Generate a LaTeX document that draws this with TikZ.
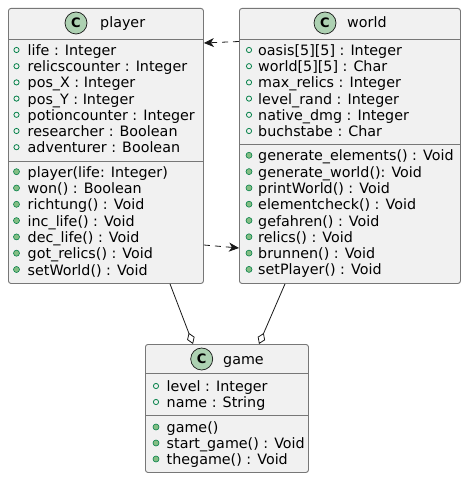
\documentclass[tikz,border=0pt]{standalone}
\usepackage{fontspec}
\setmainfont{DejaVu Sans}
\usetikzlibrary{arrows.meta,calc}
\definecolor{boxfill}{HTML}{F1F1F1}
\definecolor{boxline}{HTML}{777777}
\definecolor{conline}{HTML}{181818}
\definecolor{cfill}{HTML}{ADD1B2}
\definecolor{visgreen}{HTML}{038048}
\definecolor{methfill}{HTML}{84BE84}
\tikzset{
  classbox/.style={draw=boxline, fill=boxfill, line width=0.9pt, rounded corners=2.5pt, inner sep=0pt, anchor=north west},
  sepline/.style={draw=boxline, line width=0.9pt},
  cicon/.style={circle, draw=conline, fill=cfill, line width=0.7pt, minimum size=22pt, inner sep=0pt, font=\fontsize{13}{13}\selectfont\bfseries},
  txt/.style={anchor=base west, inner sep=0pt, font=\fontsize{14.3}{16}\selectfont},
  attricon/.style={draw=visgreen, line width=0.8pt, fill=none},
  methicon/.style={draw=visgreen, fill=methfill, line width=0.6pt},
  dep/.style={draw=conline, line width=0.8pt, dash pattern=on 6pt off 5pt, -{Stealth[length=10pt,width=9pt,inset=3pt]}},
  agg/.style={draw=conline, line width=0.8pt, -{Diamond[open,fill=white,length=12pt,width=8pt]}}
}
\begin{document}
\begin{tikzpicture}[x=1pt,y=-1pt]
\useasboundingbox (0,0) rectangle (466,478);
% ---------- player ----------
\node[classbox, minimum width=195pt, minimum height=275pt] (player) at (8,8) {};
\draw[sepline] (8,39) -- (203,39);
\draw[sepline] (8,161.5) -- (203,161.5);
\node[cicon] (pc) at (76,23) {C};
\node[txt] (pn) at (100,28) {player};
\foreach \t [count=\i] in {life : Integer, relicscounter : Integer, pos\_X : Integer, pos\_Y : Integer, potioncounter : Integer, researcher : Boolean, adventurer : Boolean}{
  \pgfmathsetmacro\yy{51+(\i-1)*16.2}
  \draw[attricon] (16.5,\yy-1) circle (2.6);
  \node[txt] (pa\i) at (27.5,\yy+4.5) {\t};
}
\foreach \t [count=\i] in {player(life: Integer), won() : Boolean, richtung() : Void, inc\_life() : Void, dec\_life() : Void, got\_relics() : Void, setWorld() : Void}{
  \pgfmathsetmacro\yy{172.7+(\i-1)*16.3}
  \filldraw[methicon] (16.5,\yy-1) circle (3);
  \node[txt] (pm\i) at (27.5,\yy+4.5) {\t};
}
% ---------- world ----------
\node[classbox, minimum width=221pt, minimum height=275pt] (world) at (239,8) {};
\draw[sepline] (239,39) -- (460,39);
\draw[sepline] (239,144) -- (460,144);
\node[cicon] (wc) at (325,23) {C};
\node[txt] (wn) at (347,28) {world};
\foreach \t [count=\i] in {oasis[5][5] : Integer, world[5][5] : Char, max\_relics : Integer, level\_rand : Integer, native\_dmg : Integer, buchstabe : Char}{
  \pgfmathsetmacro\yy{51+(\i-1)*16.2}
  \draw[attricon] (249,\yy-1) circle (2.6);
  \node[txt] (wa\i) at (258,\yy+4.5) {\t};
}
\foreach \t [count=\i] in {generate\_elements() : Void, generate\_world(): Void, printWorld() : Void, elementcheck() : Void, gefahren() : Void, relics() : Void, brunnen() : Void, setPlayer() : Void}{
  \pgfmathsetmacro\yy{156.3+(\i-1)*16.3}
  \filldraw[methicon] (249,\yy-1) circle (3);
  \node[txt] (wm\i) at (258,\yy+4.5) {\t};
}
% ---------- game ----------
\node[classbox, minimum width=163pt, minimum height=128pt] (game) at (145,344) {};
\draw[sepline] (145,373) -- (308,373);
\draw[sepline] (145,415) -- (308,415);
\node[cicon] (gc) at (201.7,359) {C};
\node[txt] (gn) at (223,364) {game};
\foreach \t [count=\i] in {level : Integer, name : String}{
  \pgfmathsetmacro\yy{387+(\i-1)*16}
  \draw[attricon] (156,\yy-1) circle (2.6);
  \node[txt] (ga\i) at (166.5,\yy+4.5) {\t};
}
\foreach \t [count=\i] in {game(), start\_game() : Void, thegame() : Void}{
  \pgfmathsetmacro\yy{428+(\i-1)*16}
  \filldraw[methicon] (156,\yy-1) circle (3);
  \node[txt] (gm\i) at (166.5,\yy+4.5) {\t};
}
% ---------- connectors ----------
\draw[dep] ($(world.north west)+(0,33.5)$) -- ($(player.north east)+(0,35)$);
\draw[dep] ($(player.north east)+(0,237)$) -- ($(world.north west)+(0,240)$);
\draw[agg] ($(player.south west)+(162,0)$) -- ($(game.north west)+(48,0)$);
\draw[agg] ($(world.south west)+(46,0)$) -- ($(game.north west)+(114,0)$);
\end{tikzpicture}
\end{document}
